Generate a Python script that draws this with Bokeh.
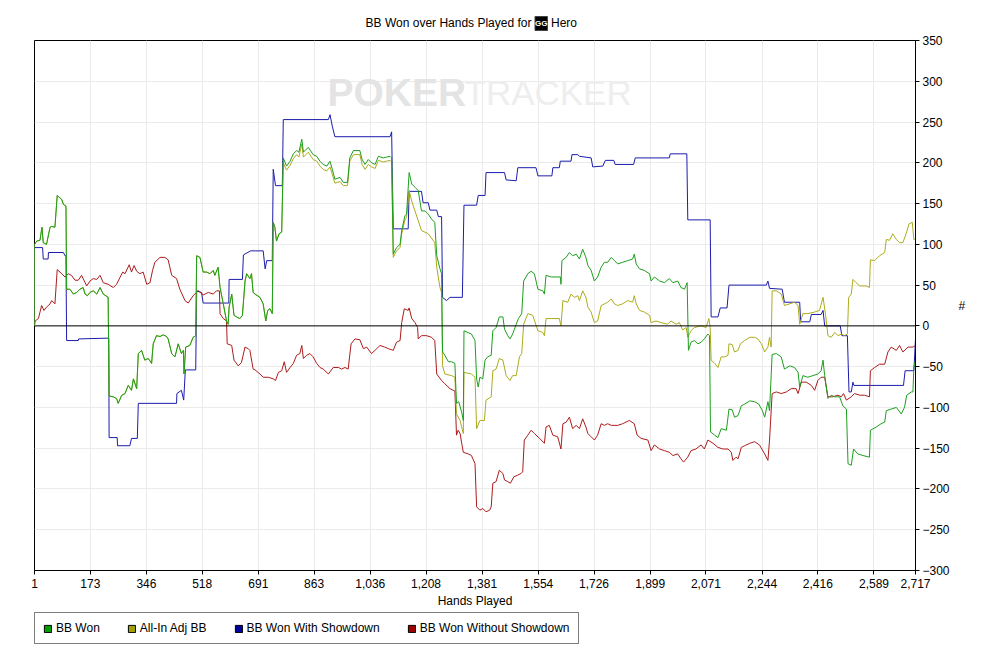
from bokeh.plotting import figure
from bokeh.layouts import column
from bokeh.models import (Range1d, FixedTicker, NumeralTickFormatter, Span, Label,
                          Legend, LegendItem)
from bokeh.core.properties import value
from bokeh.embed import file_html
from bokeh.resources import INLINE

# ---------------- data (hands played, cumulative big blinds) ----------------
x_ticks = [1, 173, 346, 518, 691, 863, 1036, 1208, 1381, 1554, 1726, 1899,
           2071, 2244, 2416, 2589, 2717]
y_ticks = list(range(-300, 351, 50))

won_hands = [
    1, 1, 8, 18, 24, 28, 38, 49, 54, 64,
    71, 85, 90, 98, 100, 110, 121, 131, 141, 151,
    157, 164, 172, 182, 193, 203, 213, 228, 231, 244,
    254, 259, 270, 280, 290, 300, 306, 316, 321, 331,
    341, 352, 362, 367, 377, 388, 398, 408, 413, 424,
    434, 444, 454, 460, 462, 467, 480, 490, 498, 501,
    511, 521, 532, 542, 552, 557, 567, 573, 583, 593,
    598, 601, 609, 616, 624, 634, 642, 650, 655, 665,
    670, 675,
    681, 696, 706, 714, 720, 727, 734, 737, 742, 747,
    755, 763, 768, 778, 789, 799, 809, 816, 825, 830,
    845, 860, 871, 881, 891, 902, 912, 919, 927, 943,
    953, 966, 973, 984, 1004, 1011, 1020, 1030, 1040, 1051,
    1061, 1076, 1086, 1097, 1102, 1107, 1117, 1128, 1133, 1143,
    1148, 1156, 1164, 1174, 1184, 1194, 1205, 1215, 1225, 1235,
    1241, 1251, 1256, 1259, 1266, 1277, 1287, 1297, 1302, 1309,
    1318, 1323, 1325, 1348, 1359, 1364, 1369, 1374,
    1383, 1390, 1398, 1409, 1414, 1424, 1434, 1445, 1450, 1460,
    1467, 1475, 1486, 1493, 1503, 1509, 1522, 1532, 1542, 1553,
    1568, 1573, 1578, 1594, 1609, 1622, 1624, 1627, 1640, 1650,
    1660, 1671, 1681, 1691, 1701, 1707, 1717, 1727, 1737, 1748,
    1758, 1768, 1779, 1789, 1799, 1814, 1830, 1845, 1850, 1856,
    1866, 1881, 1897, 1902, 1912, 1928, 1943, 1958, 1969, 1984,
    1994, 2005, 2013, 2017, 2025, 2035, 2046, 2056, 2066,
    2077, 2082, 2085, 2098, 2108, 2118, 2134, 2142, 2152, 2159,
    2170, 2180, 2190, 2206, 2221, 2234, 2245, 2252, 2262, 2267,
    2275, 2288, 2303, 2313, 2329, 2344, 2355, 2360, 2370, 2385,
    2401, 2416, 2426, 2432, 2437, 2447, 2457, 2468, 2483, 2493,
    2504, 2509, 2519, 2526, 2539, 2555, 2575, 2578, 2596, 2611,
    2622, 2627, 2642, 2658, 2673, 2683, 2690, 2704, 2709, 2712,
    2717,
]
won_bb = [
    0, 100, 104, 105, 121, 102, 100, 121, 122, 121,
    160, 155, 149, 147, 45, 45, 39, 41, 45, 47,
    39, 37, 41, 43, 39, 47, 39, 35, -86, -87,
    -89, -95, -85, -83, -73, -79, -65, -77, -34, -30,
    -42, -40, -46, -22, -12, -13, -11, -13, -16, -34,
    -38, -22, -34, -30, -59, -26, -24, -14, -12, 86,
    84, 66, 66, 64, 68, 62, 72, 47, 27, 6,
    2, 23, 39, 13, 11, 9, 13, 55, 64, 58,
    64, 41,
    39, 35, 27, 6, 19, 21, 15, 127, 121, 104,
    113, 115, 206, 196, 202, 211, 215, 213, 229, 213,
    219, 210, 208, 202, 198, 196, 202, 192, 180, 182,
    176, 176, 206, 215, 215, 204, 198, 204, 200, 198,
    208, 206, 207, 208, 206, 88, 96, 100, 117, 135,
    137, 188, 174, 170, 166, 141, 141, 137, 131, 127,
    86, 70, 64, -32, -36, -44, -44, -46, -95, -93,
    -106, -116, -6, -10, -18, -65, -75, -63,
    -65, -42, -38, -36, -6, -2, 11, 11, -4, -12,
    -16, -10, 2, 9, 15, 55, 64, 67, 64, 45,
    43, 39, 62, 60, 60, 60, 51, 80, 84, 90,
    86, 88, 82, 94, 84, 74, 68, 55, 60, 72,
    78, 78, 84, 80, 76, 78, 80, 82, 88, 76,
    70, 68, 64, 55, 60, 55, 53, 58, 53, 55,
    47, 45, 53, -30, -20, -18, -22, -20, -16,
    -10, -12, -130, -134, -137, -126, -128, -102, -103, -112,
    -110, -98, -96, -92, -93, -96, -104, -112, -93, -104,
    -35, -34, -38, -53, -49, -51, -57, -75, -61, -63,
    -61, -59, -55, -42, -61, -89, -85, -87, -87, -98,
    -102, -169, -171, -151, -157, -159, -161, -128, -124, -120,
    -118, -104, -102, -100, -108, -100, -85, -81, -81, -51,
    -42,
]

# All-In Adj BB coincides with BB Won up to hand 763, then:
allin_tail_hands = [
    768, 778, 789, 799, 809, 816, 825, 830, 845, 860,
    871, 881, 891, 902, 912, 919, 927, 943, 953, 966,
    973, 984, 1004, 1011, 1020, 1030, 1040, 1051, 1061, 1076,
    1086, 1097, 1102, 1107, 1117, 1128, 1133, 1143, 1148, 1156,
    1164, 1184, 1194, 1215, 1235, 1241, 1251, 1256, 1259, 1266,
    1287, 1297, 1302, 1313, 1323, 1325, 1348, 1359, 1364, 1374,
    1388, 1393, 1409, 1414, 1424, 1434, 1445, 1455, 1467, 1475,
    1486, 1496, 1503, 1509, 1522, 1537, 1553, 1568, 1573, 1578,
    1594, 1619, 1624, 1630, 1645, 1655, 1665, 1676, 1681, 1691,
    1701, 1707, 1717, 1727, 1737, 1748, 1758, 1768, 1779, 1789,
    1799, 1814, 1830, 1845, 1850, 1856, 1866, 1881, 1897, 1902,
    1917, 1933, 1953, 1963, 1979, 1989, 1999, 2010, 2015, 2025,
    2035, 2056, 2071,
    2077, 2080, 2084, 2087, 2098, 2108, 2118, 2129, 2139, 2142,
    2152, 2159, 2170, 2177, 2190, 2206, 2221, 2231, 2242, 2252,
    2262, 2267, 2272, 2275, 2288, 2303, 2313, 2329, 2344, 2355,
    2360, 2370, 2385, 2406, 2421, 2432, 2440, 2447, 2457, 2468,
    2478, 2488, 2498, 2507, 2511, 2519, 2524, 2534, 2545, 2565,
    2575, 2578, 2591, 2606, 2622, 2627, 2637, 2647, 2658, 2668,
    2678, 2688, 2697, 2707, 2712, 2717,
]
allin_tail_bb = [
    200, 191, 197, 205, 210, 207, 223, 207, 213, 204,
    202, 196, 192, 190, 195, 186, 175, 177, 172, 172,
    202, 210, 210, 198, 192, 198, 195, 193, 203, 201,
    202, 203, 201, 84, 92, 96, 113, 130, 133, 166,
    153, 129, 117, 113, 102, 72, 47, 41, -49, -59,
    -61, -63, -108, -116, -132, -57, -59, -63, -126, -116,
    -116, -91, -87, -55, -53, -40, -42, -61, -67, -61,
    -61, -38, -34, 2, 15, 13, -6, -8, -12, 9,
    9, 9, 0, 31, 29, 39, 35, 37, 31, 43,
    35, 23, 17, 4, 6, 25, 27, 29, 33, 27,
    25, 27, 31, 29, 37, 27, 19, 17, 13, 4,
    6, 4, 2, 6, 2, 4, -5, -2, -14, -6,
    -2, 0, -2,
    5, 9, -2, -42, -46, -51, -38, -38, -36, -22,
    -23, -32, -30, -22, -18, -14, -14, -16, -22, -32,
    -26, -14, -26, 43, 43, 39, 25, 27, 29, 25,
    2, 15, 15, 17, 19, 35, 13, -12, -14, -8,
    -12, -10, -12, -10, 35, 39, 57, 53, 49, 49,
    47, 81, 80, 86, 90, 106, 105, 113, 106, 102,
    102, 113, 125, 127, 106, 106,
]

sd_hands = [
    1, 1, 26, 28, 43, 44, 90, 95, 98, 100,
    136, 137, 230, 231, 256, 257, 295, 300, 318, 321,
    439, 440, 454, 461, 466, 498, 501, 516, 521, 600,
    601, 642, 645, 667, 681, 706, 712, 717, 734, 737,
    744, 765, 768, 907, 912, 919, 927, 1097, 1102, 1107,
    1153, 1156, 1194, 1199, 1215, 1220, 1241, 1246, 1256, 1259,
    1271, 1282, 1320, 1325, 1364, 1369, 1390, 1393, 1450, 1455,
    1486, 1491, 1547, 1553, 1596, 1599, 1619, 1622, 1655, 1658,
    1676, 1681, 1717, 1722, 1753, 1761, 1787, 1791, 1848, 1853,
    1958, 1961, 2012, 2015, 2084, 2087, 2108, 2115, 2136, 2142,
    2257, 2262, 2267, 2306, 2313, 2360, 2363, 2391, 2396, 2426,
    2432, 2437, 2485, 2490, 2507, 2512, 2519, 2524, 2527, 2680,
    2685, 2712, 2717,
]
sd_bb = [
    0, 96, 96, 82, 82, 90, 90, 86, 86, -18,
    -18, -16, -15, -137, -137, -147, -147, -138, -138, -95,
    -95, -83, -79, -91, -54, -54, 43, 41, 28, 28,
    57, 57, 87, 92, 92, 92, 70, 80, 80, 192,
    172, 172, 253, 253, 259, 245, 232, 232, 238, 119,
    119, 165, 165, 151, 151, 142, 142, 134, 134, 35,
    31, 35, 35, 148, 148, 160, 160, 188, 188, 179,
    178, 194, 194, 184, 184, 194, 194, 202, 202, 210,
    210, 208, 206, 195, 196, 203, 203, 198, 198, 206,
    206, 211, 211, 130, 130, 11, 11, 22, 22, 50,
    50, 55, 46, 45, 29, 29, 5, 5, 14, 14,
    19, 0, 0, -12, -12, -81, -81, -69, -73, -73,
    -55, -55, -16,
]

nsd_hands = [
    1, 3, 13, 23, 30, 38, 49, 54, 64, 71,
    85, 95, 105, 115, 126, 136, 146, 157, 162, 172,
    182, 193, 203, 213, 228, 244, 254, 264, 273, 280,
    293, 300, 308, 316, 326, 336, 347, 357, 365, 372,
    388, 403, 413, 424, 439, 449, 465, 475, 490, 506,
    521, 537, 552, 562, 571, 573, 583, 593, 595, 609,
    616, 629, 639, 650, 660, 665, 675, 681, 696, 706,
    722, 737, 744, 753, 763, 771, 778, 789, 799, 809,
    819, 825, 830, 840, 850, 860, 871, 881, 891, 907,
    922, 938, 948, 958, 968, 977, 989, 1004, 1015, 1025,
    1040, 1056, 1066, 1081, 1092, 1107, 1117, 1128, 1133, 1141,
    1153, 1156, 1164, 1174, 1182, 1184, 1194, 1210, 1225, 1235,
    1241, 1256, 1266, 1282, 1297, 1302, 1307, 1313, 1318, 1323,
    1338, 1348, 1359, 1364, 1374, 1383, 1393, 1404, 1409, 1414,
    1424, 1434, 1445, 1450, 1460, 1468, 1479, 1491, 1501, 1506,
    1511, 1522, 1532, 1542, 1558, 1573, 1578, 1588, 1599, 1614,
    1624, 1630, 1640, 1650, 1660, 1671, 1681, 1691, 1701, 1707,
    1717, 1727, 1737, 1748, 1758, 1768, 1779, 1799, 1814, 1835,
    1850, 1859, 1871, 1892, 1902, 1912, 1928, 1943, 1958, 1969,
    1984, 1994, 2002, 2015, 2025, 2040, 2056, 2066, 2077, 2093,
    2108, 2123, 2139, 2149, 2154, 2164, 2170, 2180, 2190, 2206,
    2221, 2236, 2252, 2262, 2267, 2275, 2288, 2303, 2319, 2334,
    2349, 2355, 2365, 2380, 2396, 2406, 2416, 2426, 2437, 2447,
    2462, 2478, 2488, 2495, 2504, 2519, 2529, 2545, 2560, 2575,
    2578, 2591, 2606, 2622, 2632, 2642, 2658, 2668, 2678, 2694,
    2709, 2717,
]
nsd_bb = [
    0, 6, 9, 25, 19, 23, 27, 31, 27, 69,
    64, 60, 64, 62, 56, 56, 62, 53, 49, 55,
    58, 57, 62, 53, 51, 47, 51, 59, 66, 64,
    75, 66, 74, 67, 64, 66, 51, 53, 68, 78,
    84, 84, 81, 62, 58, 45, 31, 28, 37, 43,
    38, 41, 39, 43, 43, 15, 9, 6, -22, -24,
    -42, -49, -45, -26, -28, -30, -53, -54, -59, -63,
    -63, -65, -67, -57, -55, -44, -57, -51, -46, -36,
    -34, -24, -40, -36, -34, -38, -46, -51, -53, -59,
    -51, -51, -53, -51, -53, -22, -16, -17, -28, -26,
    -34, -28, -24, -26, -28, -30, -20, -18, 4, 21,
    19, 22, 9, 4, -2, -16, -12, -12, -14, -18,
    -59, -67, -71, -77, -80, -134, -128, -132, -144, -155,
    -157, -159, -169, -222, -226, -224, -228, -226, -222, -193,
    -191, -177, -181, -189, -191, -193, -185, -183, -181, -179,
    -140, -134, -128, -132, -138, -144, -124, -122, -134, -136,
    -151, -120, -118, -112, -126, -122, -126, -114, -124, -132,
    -136, -140, -134, -120, -122, -120, -122, -122, -120, -116,
    -120, -134, -138, -140, -153, -146, -151, -153, -155, -159,
    -157, -163, -167, -161, -153, -151, -146, -151, -140, -144,
    -149, -151, -151, -155, -165, -161, -163, -149, -147, -144,
    -142, -146, -157, -165, -140, -83, -81, -83, -81, -77,
    -77, -83, -69, -69, -73, -79, -67, -63, -63, -87,
    -87, -85, -87, -83, -91, -87, -83, -85, -85, -87,
    -55, -51, -47, -47, -32, -26, -30, -24, -32, -26,
    -26, -24,
]

shared = won_hands.index(763) + 1
allin_hands = won_hands[:shared] + allin_tail_hands
allin_bb = won_bb[:shared] + allin_tail_bb

series_names = ["BB Won", "All-In Adj BB", "BB Won With Showdown", "BB Won Without Showdown"]
line_colors = ["#1c9f1c", "#acac1c", "#1c1cac", "#ac1c1c"]
swatch_colors = ["#00a000", "#a0a000", "#0000a0", "#a00000"]
title_text = "BB Won over Hands Played for"
player = "Hero"
site_badge = "GG"

FONT = "Liberation Sans"

# ---------------- title strip ----------------
tp = figure(width=991, height=32, output_backend="svg", toolbar_location=None,
            x_range=Range1d(0, 991), y_range=Range1d(0, 32), min_border=0,
            x_axis_type=None, y_axis_type=None, background_fill_color="white",
            border_fill_color="white")
tp.outline_line_color = None
tp.grid.visible = False
tp.text(x=[559], y=[9.5], text=[title_text], text_align="right", text_baseline="middle",
        text_font=value(FONT), text_font_size="12px", text_color="black")
tp.rect(x=[570], y=[9], width=14, height=14, fill_color="black", line_color="#444444")
tp.text(x=[570], y=[9], text=[site_badge], text_align="center", text_baseline="middle",
        text_font=value(FONT), text_font_size="8px", text_font_style="bold",
        text_color="white")
tp.text(x=[581], y=[9.5], text=[player], text_align="left", text_baseline="middle",
        text_font=value(FONT), text_font_size="12px", text_color="black")

# ---------------- main chart ----------------
p = figure(frame_width=881, frame_height=530, output_backend="svg", toolbar_location=None,
           x_range=Range1d(1, 2717), y_range=Range1d(-300, 350), y_axis_location="right",
           min_border_left=34, min_border_right=76, min_border_top=8, min_border_bottom=42,
           background_fill_color="white", border_fill_color="white")
p.outline_line_color = "black"
p.outline_line_width = 1

for ax in (p.xaxis[0], p.yaxis[0]):
    ax.axis_line_color = "black"
    ax.major_tick_line_color = "black"
    ax.major_tick_out = 4
    ax.major_tick_in = 0
    ax.minor_tick_out = 0
    ax.minor_tick_in = 0
    ax.major_label_text_font = FONT
    ax.major_label_text_font_size = "12px"
    ax.major_label_text_color = "black"
    ax.axis_label_text_font = FONT
    ax.axis_label_text_font_size = "12px"
    ax.axis_label_text_font_style = "normal"
    ax.axis_label_text_color = "black"

xa = p.xaxis[0]
xa.ticker = FixedTicker(ticks=x_ticks)
xa.formatter = NumeralTickFormatter(format="0,0")
xa.axis_label = "Hands Played"
xa.major_label_standoff = 4
xa.axis_label_standoff = 3

ya = p.yaxis[0]
ya.ticker = FixedTicker(ticks=y_ticks)
ya.major_label_standoff = 3
ya.axis_label = "#"
ya.axis_label_standoff = 6
try:
    ya.axis_label_orientation = "horizontal"
except Exception:
    pass

p.xgrid.grid_line_color = "#ebebeb"
p.ygrid.grid_line_color = "#ebebeb"

# watermark
p.add_layout(Label(x=293, y=478, x_units="screen", y_units="screen", text="POKER",
                   text_font=FONT, text_font_size="39px", text_font_style="bold",
                   text_baseline="alphabetic", text_color="#e4e4e4", level="underlay"))
p.add_layout(Label(x=430, y=478, x_units="screen", y_units="screen", text="TRACKER",
                   text_font=FONT, text_font_size="35px", text_baseline="alphabetic",
                   text_color="#eeeeee", level="underlay"))

p.add_layout(Span(location=0, dimension="width", line_color="black", line_width=1))

data = {0: (won_hands, won_bb), 1: (allin_hands, allin_bb), 2: (sd_hands, sd_bb),
        3: (nsd_hands, nsd_bb)}
for i in [2, 3, 1, 0]:
    hx, hy = data[i]
    p.line(hx, hy, line_color=line_colors[i], line_width=1)

# ---------------- legend strip ----------------
# swatch proxies sit outside this strip's visible range; only the legend shows them
lp = figure(width=991, height=40, output_backend="svg", toolbar_location=None,
            x_range=Range1d(0, 1), y_range=Range1d(0, 1), min_border=0,
            min_border_left=34, x_axis_type=None, y_axis_type=None,
            background_fill_color="white", border_fill_color="white")
lp.outline_line_color = None
lp.grid.visible = False
items = []
for i, name in enumerate(series_names):
    r = lp.quad(left=[5], right=[6], top=[6], bottom=[5], fill_color=swatch_colors[i],
                line_color="black", line_width=1)
    items.append(LegendItem(label=name, renderers=[r]))

legend = Legend(items=items, orientation="horizontal", location="top_left",
                glyph_width=9, glyph_height=9, label_standoff=4, spacing=27,
                padding=8, margin=0, label_height=14,
                border_line_color="black", border_line_width=1,
                background_fill_color="white", background_fill_alpha=1,
                label_text_font=FONT, label_text_font_size="12px",
                label_text_color="black")
lp.add_layout(legend)

layout = column(tp, p, lp, spacing=0)
open("out.html", "w").write(file_html(layout, INLINE))
